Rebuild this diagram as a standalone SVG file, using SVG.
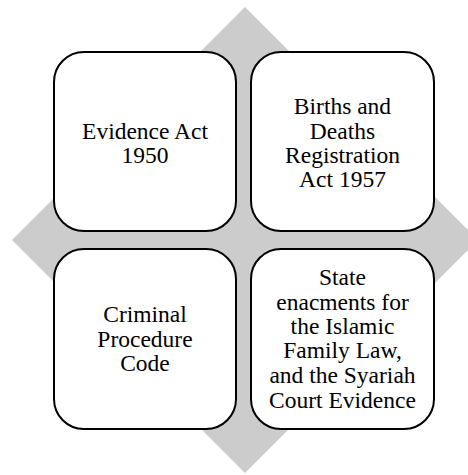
<svg xmlns="http://www.w3.org/2000/svg" width="468" height="475" viewBox="0 0 468 475">
<style>
.box{fill:#fff;stroke:#000;stroke-width:2}
.t{font-family:"Liberation Serif","Times New Roman",serif;font-size:23.5px;fill:#000;text-anchor:middle}
</style>
<rect width="468" height="475" fill="#fff"/>
<polygon points="245,7 478,240 245,473 12,240" fill="#cccccc"/>
<g id="connectors"/>
<g id="n1">
<rect class="box" x="54" y="52" width="182" height="179" rx="30"/>
<text class="t" x="145" y="139">Evidence Act</text>
<text class="t" x="145" y="163">1950</text>
</g>
<g id="n2">
<rect class="box" x="251" y="52" width="183" height="179" rx="30"/>
<text class="t" x="342.5" y="114">Births and</text>
<text class="t" x="342.5" y="138.5">Deaths</text>
<text class="t" x="342.5" y="163">Registration</text>
<text class="t" x="342.5" y="187">Act 1957</text>
</g>
<g id="n3">
<rect class="box" x="54" y="249" width="182" height="180" rx="30"/>
<text class="t" x="145" y="322">Criminal</text>
<text class="t" x="145" y="347">Procedure</text>
<text class="t" x="145" y="371">Code</text>
</g>
<g id="n4">
<rect class="box" x="251" y="249" width="183" height="180" rx="30"/>
<text class="t" x="342.5" y="285">State</text>
<text class="t" x="342.5" y="310">enacments for</text>
<text class="t" x="342.5" y="334">the Islamic</text>
<text class="t" x="342.5" y="358">Family Law,</text>
<text class="t" x="342.5" y="383">and the Syariah</text>
<text class="t" x="342.5" y="408">Court Evidence</text>
</g>
</svg>
